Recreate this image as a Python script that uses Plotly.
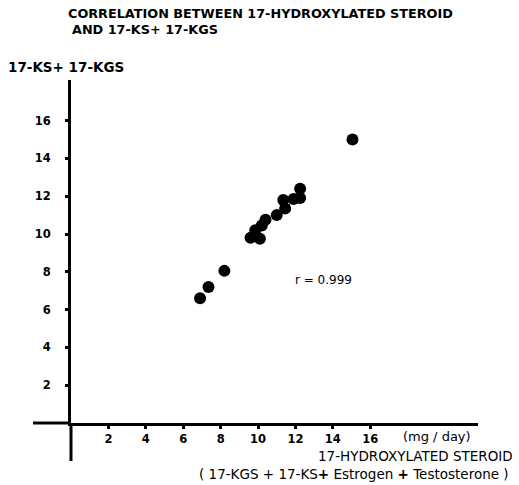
import plotly.graph_objects as go

# Data
hydroxylated = [6.9, 7.35, 8.2, 9.6, 10.1, 9.85, 10.2, 10.4, 11.0, 11.45, 11.35, 11.9, 12.25, 12.25, 15.05]
ks_kgs       = [6.6, 7.2, 8.05, 9.8, 9.75, 10.2, 10.45, 10.75, 11.0, 11.35, 11.8, 11.85, 11.9, 12.4, 15.0]
tick_vals = [2, 4, 6, 8, 10, 12, 14, 16]
tick_text = ["2", "4", "6", "8", "10", "12", "14", "16"]

FONT = "DejaVu Sans"
W, H = 519, 485
L, R, T, B = 71, 41, 80, 62
PW, PH = W - L - R, H - T - B

def px(x):
    return (x - L) / PW

def py(y):
    return (H - B - y) / PH

fig = go.Figure()
fig.add_trace(go.Scatter(
    x=hydroxylated, y=ks_kgs, mode="markers",
    marker=dict(color="black", size=12, line=dict(width=0)),
    hoverinfo="skip", showlegend=False, cliponaxis=False,
))

axis_common = dict(
    showgrid=False, zeroline=False, showline=True, linecolor="black", linewidth=3,
    ticks="outside", ticklen=3, tickwidth=3, tickcolor="black",
    tickvals=tick_vals, ticktext=tick_text,
    tickfont=dict(family=FONT, size=11.5, color="black", weight=700),
)
fig.update_xaxes(range=[0, 21.76], ticklabelstandoff=0, **axis_common)
fig.update_yaxes(range=[0, 18.15], ticklabelstandoff=12, **axis_common)

# axis extensions beyond the origin
fig.add_shape(type="line", xref="paper", yref="paper", x0=px(33), x1=0, y0=0, y1=0,
              line=dict(color="black", width=3))
fig.add_shape(type="line", xref="paper", yref="paper", x0=0, x1=0, y0=py(461), y1=0,
              line=dict(color="black", width=3))

def ann(text, x, y, xanchor="left", size=12, weight=400):
    fig.add_annotation(text=text, xref="paper", yref="paper", x=px(x), y=py(y),
                       xanchor=xanchor, yanchor="middle", showarrow=False,
                       font=dict(family=FONT, size=size, color="black", weight=weight))

ann("CORRELATION BETWEEN 17-HYDROXYLATED STEROID", 66, 14, size=12.8, weight=700)
ann("AND 17-KS<b>+</b> 17-KGS", 70, 30, size=12.8, weight=700)
ann("17-KS<b>+</b> 17-KGS", 6, 67, size=13.5, weight=700)
ann("(mg / day)", 401, 436, size=13)
ann("17-HYDROXYLATED STEROID", 316, 456, size=13.5)
ann("( 17-KGS + 17-KS<b>+</b> Estrogen <b>+</b> Testosterone )", 197, 474, size=13.5)

fig.add_annotation(text="r = 0.999", x=13.5, y=7.55, xref="x", yref="y", showarrow=False,
                   font=dict(family=FONT, size=12, color="black"))

fig.update_layout(
    width=W, height=H, margin=dict(l=L, r=R, t=T, b=B),
    paper_bgcolor="white", plot_bgcolor="white",
)
fig.write_html("out.html")
